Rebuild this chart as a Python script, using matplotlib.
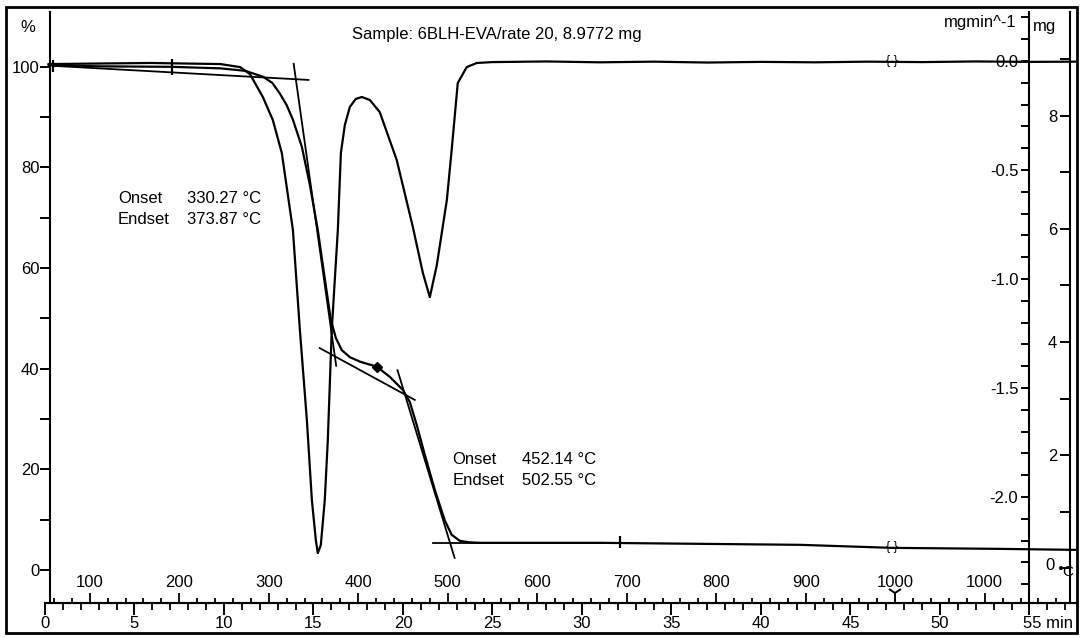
import numpy as np
import matplotlib.pyplot as plt
from matplotlib.patches import Rectangle
from matplotlib.ticker import FixedLocator

plt.rcParams['font.family'] = ['Liberation Sans', 'DejaVu Sans']
plt.rcParams['axes.unicode_minus'] = False
plt.rcParams['font.size'] = 12

# TGA curve: time (min) vs mass (%)
tga_time = [0.2, 3.1, 7.1, 9.8, 11.2, 12.2, 12.7, 13.1, 13.5, 13.85, 14.35, 14.8,
            15.24, 15.64, 15.97, 16.25, 16.58, 17.03, 17.6, 18.54, 19.26, 19.99,
            20.38, 20.77, 21.22, 21.78, 22.33, 22.72, 23.17, 23.7, 24.3, 31.0,
            42.2, 47.3, 53.3, 57.6]
tga_mass = [100.3, 100.1, 100.0, 99.7, 99.2, 98.0, 96.8, 94.8, 92.4, 89.5, 84.1, 76.5,
            67.6, 57.7, 49.7, 46.1, 43.7, 42.3, 41.4, 40.4, 38.4, 35.8,
            33.4, 28.8, 22.9, 15.9, 9.9, 7.0, 5.8, 5.5, 5.4, 5.4,
            5.0, 4.4, 4.2, 4.0]

# DTG curve: time (min) vs rate (mg/min)
dtg_time = [0.2, 5.9, 9.8, 10.9, 11.45, 12.17, 12.73, 13.23, 13.85, 14.24, 14.63,
            14.91, 15.13, 15.24, 15.41, 15.63, 15.8, 16.02, 16.36, 16.53, 16.75,
            17.03, 17.36, 17.7, 18.15, 18.7, 19.65, 20.55, 21.11, 21.5, 21.89,
            22.45, 22.72, 23.06, 23.56, 24.12, 25.0, 28.0, 31.0, 34.0, 37.0,
            40.0, 43.0, 46.0, 49.0, 52.0, 55.0, 57.6]
dtg_rate = [-0.014, -0.009, -0.014, -0.028, -0.060, -0.165, -0.271, -0.422, -0.775,
            -1.234, -1.647, -2.014, -2.197, -2.257, -2.220, -2.014, -1.739, -1.234,
            -0.775, -0.422, -0.294, -0.211, -0.174, -0.165, -0.179, -0.234, -0.454,
            -0.761, -0.972, -1.083, -0.936, -0.638, -0.408, -0.101, -0.028, -0.009,
            -0.005, -0.002, -0.006, -0.003, -0.007, -0.004, -0.006, -0.003, -0.005,
            -0.002, -0.004, -0.003]

sample_text = "Sample: 6BLH-EVA/rate 20, 8.9772 mg"
start_temp = 50.0      # °C at t = 0
heating_rate = 20.0    # °C/min

onset_1, endset_1 = 330.27, 373.87
onset_2, endset_2 = 452.14, 502.55

# baselines used for the onset/endset construction (min, %)
base_1 = [(0.45, 100.2), (14.72, 97.4)]
plateau = [(15.35, 44.1), (20.66, 33.8)]
base_2 = [(21.7, 5.4), (32.2, 5.4)]

minute_ticks = list(range(0, 56, 5))
minute_labels = ["0", "5", "10", "15", "20", "25", "30", "35", "40", "45", "50", ""]
temp_labels = ["100", "200", "300", "400", "500", "600", "700", "800", "900", "1000", "1000"]
temp_label_times = [2.5, 7.5, 12.5, 17.5, 22.5, 27.5, 32.5, 37.5, 42.5, 47.5, 52.5]

pct_ticks = [0, 20, 40, 60, 80, 100]
rate_ticks = [0.0, -0.5, -1.0, -1.5, -2.0]
mg_ticks = [0, 2, 4, 6, 8]


def to_time(temp):
    return (temp - start_temp) / heating_rate


def line_at(line, t):
    (t0, p0), (t1, p1) = line
    return p0 + (p1 - p0) * (t - t0) / (t1 - t0)


def steep_tangent(line_a, t_a, line_b, t_b, p_top, p_bot):
    pa, pb = line_at(line_a, t_a), line_at(line_b, t_b)
    slope = (pb - pa) / (t_b - t_a)
    ts = [t_a + (p_top - pa) / slope, t_a + (p_bot - pa) / slope]
    return ts, [p_top, p_bot]


fig = plt.figure(figsize=(10.8, 6.38), dpi=100)
W, H = 1080, 638
ax = fig.add_axes([45 / W, 1 - 603 / H, 1031 / W, 591 / H])
ax.set_xlim(0, 57.6)
ax.set_ylim(-6.56, 110.9)
for s in ['top', 'right']:
    ax.spines[s].set_visible(False)
ax.spines['left'].set_position(('data', 0.3))
ax.spines['left'].set_linewidth(1.5)
ax.spines['bottom'].set_linewidth(1.5)
ax.patch.set_alpha(0)

lw = 1.6
ax.plot(tga_time, tga_mass, color='black', lw=lw)

# onset / endset construction lines
t_on1, t_end1 = to_time(onset_1), to_time(endset_1)
t_on2, t_end2 = to_time(onset_2), to_time(endset_2)
for line in (base_1, plateau, base_2):
    ax.plot([line[0][0], line[1][0]], [line[0][1], line[1][1]], color='black', lw=1.3)
tx, ty = steep_tangent(base_1, t_on1, plateau, t_end1, 100.6, 40.6)
ax.plot(tx, ty, color='black', lw=1.3)
tx, ty = steep_tangent(plateau, t_on2, base_2, t_end2, 39.7, 2.4)
ax.plot(tx, ty, color='black', lw=1.3)

# range markers
ax.plot([0.45], [100.2], marker='|', ms=8, mew=1.6, color='black')
ax.plot([7.1], [100.0], marker='|', ms=12, mew=1.6, color='black')
ax.plot([18.54], [40.4], marker='D', ms=5, color='black')
ax.plot([32.1], [5.6], marker='|', ms=9, mew=1.6, color='black')
ax.plot([47.5], [-4.6], marker='1', ms=11, mew=1.4, color='black')
ax.text(47.3, 4.5, "{ }", ha='center', va='center', fontsize=9)

ax.text(4.08, 73.8, "Onset")
ax.text(7.93, 73.8, f"{onset_1:.2f} °C")
ax.text(4.08, 69.6, "Endset")
ax.text(7.93, 69.6, f"{endset_1:.2f} °C")
ax.text(22.78, 21.9, "Onset")
ax.text(26.63, 21.9, f"{onset_2:.2f} °C")
ax.text(22.78, 17.7, "Endset")
ax.text(26.63, 17.7, f"{endset_2:.2f} °C")
for txt in ax.texts[1:]:
    txt.set_va('center')

# % axis
ax.yaxis.set_major_locator(FixedLocator(pct_ticks))
ax.yaxis.set_minor_locator(FixedLocator([10, 30, 50, 70, 90]))
ax.tick_params(axis='y', which='both', direction='out', length=7, width=1.4, pad=1)
ax.tick_params(axis='y', labelsize=12)

# minute axis
ax.xaxis.set_major_locator(FixedLocator(minute_ticks))
ax.set_xticklabels(minute_labels)
ax.xaxis.set_minor_locator(FixedLocator(list(range(0, 58))))
ax.tick_params(axis='x', which='major', direction='out', length=8.5, width=1.4, pad=1, labelsize=12)
ax.tick_params(axis='x', which='minor', direction='out', length=5, width=1.3)

# temperature scale, ticks inside the plot above the time axis
sec = ax.secondary_xaxis('bottom')
sec.set_xticks(temp_label_times, labels=temp_labels)
sec.xaxis.set_minor_locator(FixedLocator(np.arange(0.5, 57, 1.0)))
sec.tick_params(axis='x', which='major', direction='in', length=7.5, width=1.3, pad=-20.5, labelsize=12)
sec.tick_params(axis='x', which='minor', direction='in', length=3.5, width=1.3)
sec.spines['bottom'].set_linewidth(1.5)

# DTG axis
ax2 = ax.twinx()
ax2.set_ylim(-2.486, 0.2248)
ax2.plot(dtg_time, dtg_rate, color='black', lw=lw)
ax2.text(47.3, 0.0, "{ }", ha='center', va='center', fontsize=9)
for s in ['top', 'right', 'bottom']:
    ax2.spines[s].set_visible(False)
ax2.spines['left'].set_visible(True)
ax2.spines['left'].set_position(('data', 55.0))
ax2.spines['left'].set_linewidth(1.5)
ax2.yaxis.set_ticks_position('left')
ax2.yaxis.set_label_position('left')
ax2.yaxis.set_major_locator(FixedLocator(rate_ticks))
ax2.yaxis.set_minor_locator(FixedLocator([round(-0.1 * k, 1) for k in range(-2, 25) if k % 5]))
ax2.yaxis.set_major_formatter(lambda v, pos: f"{v:.1f}")
ax2.tick_params(axis='y', which='both', direction='out', length=6, width=1.4, pad=2, labelsize=12)

# mass (mg) axis
ax3 = ax.twinx()
ax3.set_ylim(-0.619, 9.84)
for s in ['top', 'right', 'bottom']:
    ax3.spines[s].set_visible(False)
ax3.spines['left'].set_visible(True)
ax3.spines['left'].set_position(('data', 57.25))
ax3.spines['left'].set_linewidth(1.5)
ax3.yaxis.set_ticks_position('left')
ax3.yaxis.set_major_locator(FixedLocator(mg_ticks))
ax3.yaxis.set_minor_locator(FixedLocator([1, 3, 5, 7, 9]))
ax3.tick_params(axis='y', which='both', direction='out', length=7, width=1.4, pad=2, labelsize=12)
ax3.set_yticklabels(["", "2", "4", "6", "8"])

fig.text(497 / W, 1 - 35 / H, sample_text, ha='center', va='center', fontsize=12)
fig.text(28 / W, 1 - 27 / H, "%", ha='center', va='center', fontsize=12)
fig.text(1017 / W, 1 - 22 / H, "mgmin^-1", ha='right', va='center', fontsize=12)
fig.text(1033 / W, 1 - 26 / H, "mg", ha='left', va='center', fontsize=12)
fig.text(1023 / W, 1 - 623 / H, "55 min", ha='left', va='center', fontsize=12)
fig.text(1050 / W, 1 - 566 / H, "0", ha='center', va='center', fontsize=12)
fig.text(1066 / W, 1 - 572 / H, "°C", ha='center', va='center', fontsize=11)

fig.add_artist(Rectangle((6 / W, 1 - 633 / H), 1071 / W, 626 / H,
                         transform=fig.transFigure, fill=False, lw=2, ec='black'))

plt.savefig('out.png', dpi=100)
